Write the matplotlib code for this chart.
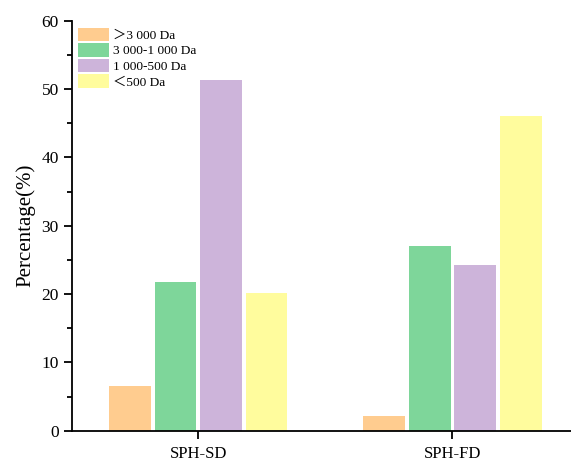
import matplotlib
matplotlib.use("Agg")
import matplotlib.pyplot as plt
from matplotlib.ticker import MultipleLocator
import numpy as np

categories = ["SPH-SD", "SPH-FD"]
series_labels = ["＞3 000 Da", "3 000-1 000 Da", "1 000-500 Da", "＜500 Da"]
gt3000 = [6.6, 2.2]
r3000_1000 = [21.8, 27.0]
r1000_500 = [51.3, 24.3]
lt500 = [20.1, 46.1]
series_values = [gt3000, r3000_1000, r1000_500, lt500]
colors = ["#FFCC8F", "#7ED69A", "#CDB4DA", "#FFFC9D"]

plt.rcParams['font.family'] = ['Liberation Serif', 'Noto Sans CJK SC', 'DejaVu Sans']

fig = plt.figure(figsize=(5.71, 4.62), dpi=100)
ax = fig.add_axes([72/571, 1 - 430.7/462, 499/571, 410/462])

x = np.arange(len(categories))
step = 0.179
width = 0.165
offsets = (np.arange(4) - 1.5) * step
for vals, lab, c, off in zip(series_values, series_labels, colors, offsets):
    ax.bar(x + off, vals, width=width, color=c, label=lab, linewidth=0)

ax.set_xlim(-0.497, 1.467)
ax.set_ylim(0, 60)
ax.set_xticks(x)
ax.set_xticklabels(categories, fontsize=12)
ax.yaxis.set_major_locator(MultipleLocator(10))
ax.yaxis.set_minor_locator(MultipleLocator(5))
ax.tick_params(axis='both', which='major', direction='out', length=6, width=1.3, labelsize=12.5)
ax.tick_params(axis='y', which='minor', direction='out', length=3.5, width=1.3)
ax.tick_params(axis='x', which='major', labelsize=12, pad=5)
for s in ['top', 'right']:
    ax.spines[s].set_visible(False)
for s in ['left', 'bottom']:
    ax.spines[s].set_linewidth(1.3)

ax.set_ylabel("Percentage(%)", fontsize=15, labelpad=4)

leg = ax.legend(loc='upper left', bbox_to_anchor=(6.3/499, 1 - 7/410), frameon=False,
                fontsize=9.6, borderpad=0, borderaxespad=0, handlelength=2.3,
                handleheight=1.17, labelspacing=0.1, handletextpad=0.3)

fig.savefig("out.png", dpi=100)
